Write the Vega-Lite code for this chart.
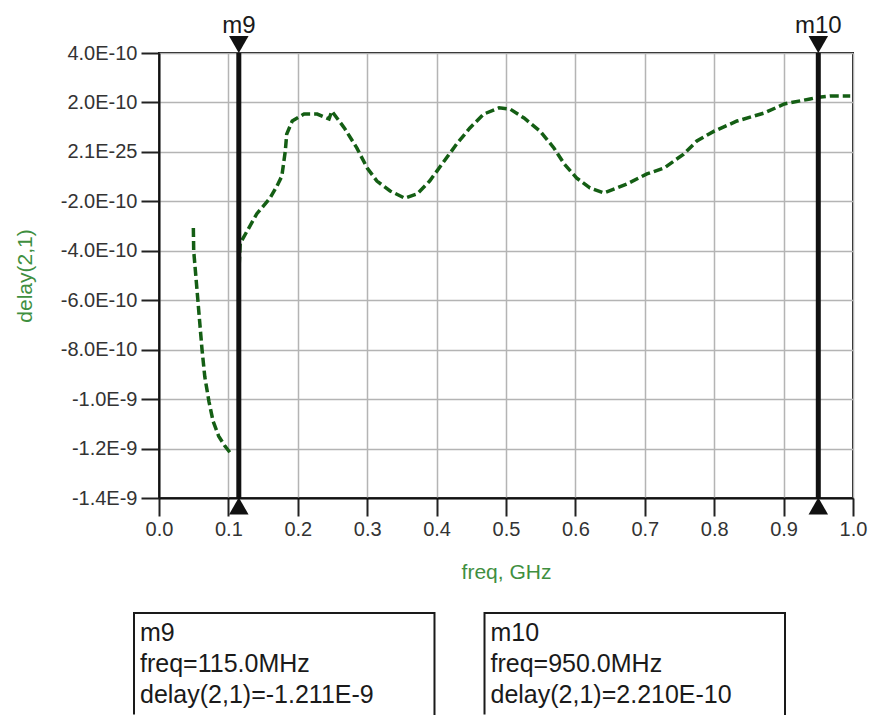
{
  "$schema": "https://vega.github.io/schema/vega-lite/v6.json",
  "background": "white",
  "padding": {"left": 13, "top": 13, "right": 0, "bottom": 0},
  "spacing": 29,
  "config": {
    "font": "Liberation Sans",
    "view": {"stroke": null},
    "axis": {
      "labelFont": "Liberation Sans",
      "titleFont": "Liberation Sans",
      "labelColor": "#333333",
      "labelFontSize": 20,
      "titleFontSize": 21,
      "titleFontWeight": "normal",
      "titleColor": "#3f8f3f",
      "domainColor": "#111111",
      "domainWidth": 2,
      "tickColor": "#222222",
      "tickWidth": 2,
      "gridColor": "#b4b4b4",
      "gridWidth": 1.5
    }
  },
  "datasets": {
    "curve": [
      {"freq": 0.0495, "delay": -3.08e-10, "branch": "a"},
      {"freq": 0.050, "delay": -4.0e-10, "branch": "a"},
      {"freq": 0.053, "delay": -5.0e-10, "branch": "a"},
      {"freq": 0.056, "delay": -6.0e-10, "branch": "a"},
      {"freq": 0.059, "delay": -7.0e-10, "branch": "a"},
      {"freq": 0.062, "delay": -8.0e-10, "branch": "a"},
      {"freq": 0.066, "delay": -9.1e-10, "branch": "a"},
      {"freq": 0.072, "delay": -10.1e-10, "branch": "a"},
      {"freq": 0.078, "delay": -10.9e-10, "branch": "a"},
      {"freq": 0.086, "delay": -11.5e-10, "branch": "a"},
      {"freq": 0.095, "delay": -11.9e-10, "branch": "a"},
      {"freq": 0.102, "delay": -12.15e-10, "branch": "a"},
      {"freq": 0.1155, "delay": -4.6e-10, "branch": "b"},
      {"freq": 0.117, "delay": -3.7e-10, "branch": "b"},
      {"freq": 0.141, "delay": -2.5e-10, "branch": "b"},
      {"freq": 0.160, "delay": -1.87e-10, "branch": "b"},
      {"freq": 0.170, "delay": -1.38e-10, "branch": "b"},
      {"freq": 0.177, "delay": -0.98e-10, "branch": "b"},
      {"freq": 0.182, "delay": 0.04e-10, "branch": "b"},
      {"freq": 0.184, "delay": 0.72e-10, "branch": "b"},
      {"freq": 0.192, "delay": 1.25e-10, "branch": "b"},
      {"freq": 0.209, "delay": 1.53e-10, "branch": "b"},
      {"freq": 0.228, "delay": 1.53e-10, "branch": "b"},
      {"freq": 0.245, "delay": 1.33e-10, "branch": "b"},
      {"freq": 0.249, "delay": 1.65e-10, "branch": "b"},
      {"freq": 0.267, "delay": 0.97e-10, "branch": "b"},
      {"freq": 0.285, "delay": 0.16e-10, "branch": "b"},
      {"freq": 0.300, "delay": -0.65e-10, "branch": "b"},
      {"freq": 0.314, "delay": -1.18e-10, "branch": "b"},
      {"freq": 0.333, "delay": -1.58e-10, "branch": "b"},
      {"freq": 0.354, "delay": -1.87e-10, "branch": "b"},
      {"freq": 0.372, "delay": -1.70e-10, "branch": "b"},
      {"freq": 0.390, "delay": -1.18e-10, "branch": "b"},
      {"freq": 0.411, "delay": -0.37e-10, "branch": "b"},
      {"freq": 0.429, "delay": 0.32e-10, "branch": "b"},
      {"freq": 0.448, "delay": 0.97e-10, "branch": "b"},
      {"freq": 0.468, "delay": 1.53e-10, "branch": "b"},
      {"freq": 0.490, "delay": 1.78e-10, "branch": "b"},
      {"freq": 0.506, "delay": 1.73e-10, "branch": "b"},
      {"freq": 0.526, "delay": 1.37e-10, "branch": "b"},
      {"freq": 0.549, "delay": 0.84e-10, "branch": "b"},
      {"freq": 0.569, "delay": 0.16e-10, "branch": "b"},
      {"freq": 0.584, "delay": -0.49e-10, "branch": "b"},
      {"freq": 0.602, "delay": -1.06e-10, "branch": "b"},
      {"freq": 0.621, "delay": -1.46e-10, "branch": "b"},
      {"freq": 0.641, "delay": -1.66e-10, "branch": "b"},
      {"freq": 0.660, "delay": -1.46e-10, "branch": "b"},
      {"freq": 0.674, "delay": -1.30e-10, "branch": "b"},
      {"freq": 0.703, "delay": -0.89e-10, "branch": "b"},
      {"freq": 0.728, "delay": -0.65e-10, "branch": "b"},
      {"freq": 0.756, "delay": -0.09e-10, "branch": "b"},
      {"freq": 0.775, "delay": 0.44e-10, "branch": "b"},
      {"freq": 0.800, "delay": 0.84e-10, "branch": "b"},
      {"freq": 0.833, "delay": 1.25e-10, "branch": "b"},
      {"freq": 0.872, "delay": 1.57e-10, "branch": "b"},
      {"freq": 0.901, "delay": 1.94e-10, "branch": "b"},
      {"freq": 0.938, "delay": 2.14e-10, "branch": "b"},
      {"freq": 0.950, "delay": 2.21e-10, "branch": "b"},
      {"freq": 0.967, "delay": 2.26e-10, "branch": "b"},
      {"freq": 0.996, "delay": 2.26e-10, "branch": "b"}
    ],
    "markers": [
      {"marker": "m9", "freq": 0.115, "delay": -1.211e-9, "readout": ["m9", "freq=115.0MHz", "delay(2,1)=-1.211E-9"]},
      {"marker": "m10", "freq": 0.95, "delay": 2.21e-10, "readout": ["m10", "freq=950.0MHz", "delay(2,1)=2.210E-10"]}
    ]
  },
  "vconcat": [
    {
      "width": 694,
      "height": 445,
      "view": {"stroke": "#111111", "strokeWidth": 2},
      "layer": [
        {
          "data": {"name": "curve"},
          "mark": {"type": "line", "stroke": "#145e14", "strokeWidth": 3.5, "strokeDash": [9, 4]},
          "encoding": {
            "x": {
              "field": "freq",
              "type": "quantitative",
              "scale": {"domain": [0, 1], "nice": false, "zero": false},
              "axis": {
                "title": "freq, GHz",
                "titleFontSize": 21,
                "titleColor": "#3f8f3f",
                "labelFontSize": 20,
                "labelColor": "#333333",
                "values": [0, 0.05, 0.1, 0.15, 0.2, 0.25, 0.3, 0.35, 0.4, 0.45, 0.5, 0.55, 0.6, 0.65, 0.7, 0.75, 0.8, 0.85, 0.9, 0.95, 1],
                "labelExpr": "abs(round(datum.value * 20)) % 2 == 1 ? '' : format(datum.value, '.1f')",
                "tickSize": {"condition": {"test": "abs(round(datum.value * 20)) % 2 == 1", "value": 9}, "value": 18},
                "gridOpacity": {"condition": {"test": "abs(round(datum.value * 20)) % 2 == 1", "value": 0}, "value": 1},
                "labelPadding": 3,
                "titlePadding": 22,
                "labelFlush": false,
                "labelOverlap": false
              }
            },
            "y": {
              "field": "delay",
              "type": "quantitative",
              "scale": {"domain": [-1.4e-9, 4e-10], "nice": false, "zero": false},
              "axis": {
                "title": "delay(2,1)",
                "titleFontSize": 21,
                "titleColor": "#3f8f3f",
                "labelFontSize": 20,
                "labelColor": "#333333",
                "values": [4e-10, 3e-10, 2e-10, 1e-10, 2.1e-25, -1e-10, -2e-10, -3e-10, -4e-10, -5e-10, -6e-10, -7e-10, -8e-10, -9e-10, -1e-9, -1.1e-9, -1.2e-9, -1.3e-9, -1.4e-9],
                "labelExpr": "abs(round(datum.value * 1e10)) % 2 == 1 ? '' : (datum.value < 0 ? '-' : '') + format(abs(datum.value) / pow(10, floor(log(abs(datum.value)) / LN10 + 1e-9)), '.1f') + 'E-' + (-floor(log(abs(datum.value)) / LN10 + 1e-9))",
                "tickSize": {"condition": {"test": "abs(round(datum.value * 1e10)) % 2 == 1", "value": 9}, "value": 18},
                "gridOpacity": {"condition": {"test": "abs(round(datum.value * 1e10)) % 2 == 1", "value": 0}, "value": 1},
                "labelPadding": 4,
                "titlePadding": 25,
                "labelFlush": false,
                "labelOverlap": false
              }
            },
            "detail": {"field": "branch"}
          }
        },
        {
          "data": {"name": "markers"},
          "mark": {"type": "rule", "stroke": "#111111", "strokeWidth": 5},
          "encoding": {"x": {"field": "freq", "type": "quantitative"}}
        },
        {
          "data": {"name": "markers"},
          "mark": {"type": "point", "shape": "triangle-down", "filled": true, "color": "#111111", "size": 380, "opacity": 1},
          "encoding": {
            "x": {"field": "freq", "type": "quantitative"},
            "y": {"datum": 4e-10},
            "yOffset": {"value": -8.5}
          }
        },
        {
          "data": {"name": "markers"},
          "mark": {"type": "point", "shape": "triangle-up", "filled": true, "color": "#111111", "size": 380, "opacity": 1},
          "encoding": {
            "x": {"field": "freq", "type": "quantitative"},
            "y": {"datum": -1.4e-9},
            "yOffset": {"value": 8}
          }
        },
        {
          "data": {"name": "markers"},
          "mark": {"type": "text", "fontSize": 24, "color": "#1a1a1a", "align": "center", "baseline": "alphabetic", "dy": -20},
          "encoding": {
            "x": {"field": "freq", "type": "quantitative"},
            "y": {"datum": 4e-10},
            "text": {"field": "marker"}
          }
        }
      ]
    },
    {
      "width": 694,
      "height": 102,
      "data": {"name": "markers"},
      "layer": [
        {
          "mark": {"type": "rect", "fill": "transparent", "stroke": "#1a1a1a", "strokeWidth": 2, "strokeDash": [402.4, 301, 103]},
          "encoding": {
            "x": {
              "field": "marker",
              "type": "nominal",
              "sort": ["m9", "m10"],
              "axis": null,
              "scale": {"range": [-25, 626], "paddingInner": 0.1427, "paddingOuter": 0}
            }
          }
        },
        {
          "mark": {"type": "text", "align": "left", "baseline": "alphabetic", "fontSize": 25, "lineHeight": 31, "dx": 6, "dy": -23, "color": "#1a1a1a"},
          "encoding": {
            "x": {"field": "marker", "type": "nominal", "sort": ["m9", "m10"], "bandPosition": 0, "axis": null},
            "text": {"field": "readout"}
          }
        }
      ]
    }
  ]
}
